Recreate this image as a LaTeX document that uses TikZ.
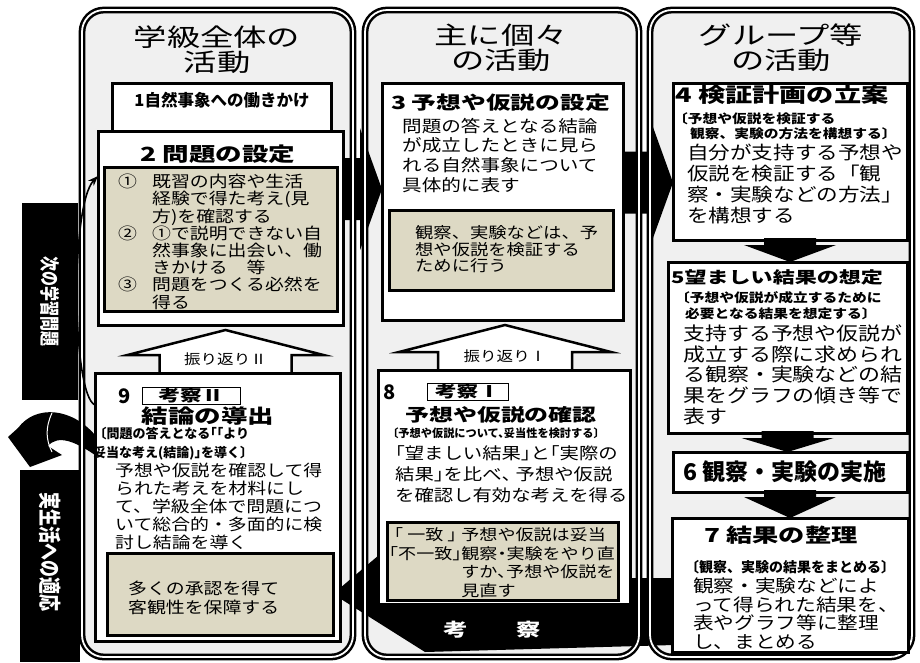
\documentclass[tikz,border=0pt]{standalone}
\usepackage{fontspec}
\usetikzlibrary{calc,arrows.meta}
\newfontfamily\widefont[FakeStretch=1.36]{Noto Sans CJK JP}
\newfontfamily\bodyfont[FakeStretch=1.18]{Noto Sans CJK JP}
\newfontfamily\haltfont[FakeStretch=1.18,RawFeature=+halt]{Noto Sans CJK JP}
\newfontfamily\plainfont{Noto Sans CJK JP}
\newfontfamily\narrowfont[RawFeature=+halt]{Noto Sans CJK JP}
\newfontfamily\barfont[FakeStretch=0.75]{Noto Sans CJK JP}
\newcommand\setfs[2]{\fontsize{#1}{#2}\selectfont}
\newcommand\itm[1]{\makebox[34pt][l]{#1}}
\newcommand\pad{\hspace*{34pt}}
\setlength{\lineskiplimit}{-20pt}
\setlength{\lineskip}{0pt}
\definecolor{colfill}{RGB}{240,240,240}
\definecolor{notefill}{RGB}{221,217,196}
\pgfdeclarelayer{back}
\pgfdeclarelayer{mid}
\pgfsetlayers{back,mid,main}

\begin{document}
\begin{tikzpicture}[x=1pt, y=-1pt, >=Stealth,
  col/.style={fill=colfill, rounded corners=22pt, anchor=north west, inner sep=0pt, outer sep=0pt},
  colframe/.style={draw, double=white, line width=2.5pt, double distance=1.8pt, rounded corners=22pt},
  box/.style={draw, fill=white, line width=3pt, anchor=north west, inner sep=0pt, outer sep=0pt},
  note/.style={box, fill=notefill},
  bar/.style={fill=black, anchor=north west, inner sep=0pt, outer sep=0pt},
  lbl/.style={inner sep=0pt},
  txt/.style={lbl, align=left, anchor=north west},
  tag/.style={lbl, draw, line width=1pt, minimum height=17pt}]

\begin{pgfonlayer}{back}
\fill[white] (0,0) rectangle (920,662);
\foreach \nm/\x/\w in {c1/82/271,c2/365/274,c3/650/262}
  \node[col, minimum width=\w pt, minimum height=647pt] (\nm) at (\x,10) {};
\end{pgfonlayer}
\useasboundingbox (0,0) rectangle (920,662);

% boxes
\foreach \nm/\x/\y/\w/\h in {b1/112/83/219/48, b2/98/131/245/194, b9/95/373/245/268,
    b3/382/83/241/237, b8/378/370/252/234,
    b4/673/83/234/157, b5/668/262/239/171, b6/673/452/234/40, b7/672/518/236/134}
  \node[box, minimum width=\w pt, minimum height=\h pt] (\nm) at (\x,\y) {};
\foreach \nm/\x/\y/\w/\h in {n2/104/167/233/144, n3/389/210/224/80, n8/387/522/231/78, n9/107/553/226/82}
  \node[note, minimum width=\w pt, minimum height=\h pt] (\nm) at (\x,\y) {};

% side bars
\node[bar, minimum width=56pt, minimum height=197pt] (bar1) at (22,203) {};
\node[bar, minimum width=60pt, minimum height=192pt] (bar2) at (20,470) {};
\node[lbl, rotate=-90, text=white, font=\barfont\bfseries\setfs{20}{20}] (q1) at (bar1.center) {次の学習問題};
\node[lbl, rotate=-90, text=white, font=\barfont\bfseries\setfs{22.7}{23}] (q2) at ($(bar2.center)+(0,-14)$) {実生活への適応};

\begin{pgfonlayer}{mid}
% big arrows
\foreach \a/\b/\f in {b2/b3/.3, b3/b4/.42}{
  \coordinate (s) at ($(\a.north east)!\f!(\a.south east)$);
  \coordinate (t) at (\b.west |- s);
  \fill ($(s)+(-4,-31)$) -- ($(t)+(-22,-31)$) -- ($(t)+(-22,-61)$) -- (t)
    -- ($(t)+(-22,61)$) -- ($(t)+(-22,31)$) -- ($(s)+(-4,31)$) -- cycle;
}
\fill (n9.east) -- ($(n9.east)+(59,-50)$) -- ($(n9.east)+(59,-16)$) -- ($(b7.west)+(2,-7)$)
  -- ($(b7.west)+(2,60)$) -- ($(n9.east)+(92,58)$) -- cycle;
\fill ($(b9.north west)+(0,62)$) .. controls (72,408) and (36,404) .. (18,428) -- (8,437)
  -- ($(bar2.north)+(-20,-3)$) -- (62,455) -- (48,446)
  .. controls (58,434) and (76,442) .. ($(b9.north west)+(0,82)$) -- cycle;
\draw[white, line width=1pt] (52,413) .. controls (45,428) and (46,440) .. (52,452);
\foreach \nm in {c1,c2,c3}
  \draw[colframe] (\nm.north west) rectangle (\nm.south east);
% look-back arrows
\foreach \a/\b/\dx/\hw/\sw/\lbl in {b9/b2/8/98/66/振り返りⅡ, b8/b3/1/106/67/振り返りⅠ}{
  \coordinate (u) at ($(\a.north)+(\dx,0)$);
  \coordinate (v) at ($(u |- \b.south)+(0,5)$);
  \draw[fill=white, line width=2.5pt] ($(u)+(-\sw,0)$) -- ($(u)+(-\sw,-18)$) -- ($(u)+(-\hw,-18)$)
    -- (v) -- ($(u)+(\hw,-18)$) -- ($(u)+(\sw,-18)$) -- ($(u)+(\sw,0)$);
  \node[lbl, font=\bodyfont\setfs{14}{14}] (fr\a) at ($(u)+(0,-14)$) {\lbl};
}
\end{pgfonlayer}

% column heads
\node[txt, align=center, anchor=north, font=\widefont\setfs{24.5}{25}] (h1) at (217,26) {学級全体の\\活動};
\node[txt, align=center, anchor=north, font=\widefont\setfs{24.5}{25}] (h2) at (501,24) {主に個々\\の活動};
\node[txt, align=center, anchor=north, font=\widefont\setfs{24.5}{25}] (h3) at (781,24) {グループ等\\の活動};

% column 1
\node[lbl, font=\plainfont\bfseries\setfs{16.5}{18}] (t1) at (222,100) {1自然事象への働きかけ};
\node[lbl, font=\widefont\bfseries\setfs{19.5}{20}] (t2) at (218,154.5) {2 問題の設定};
\node[txt, font=\bodyfont\setfs{16}{17.2}] (t2n) at (118,174)
  {\itm{①}既習の内容や生活\\\pad 経験で得た考え(見\\\pad 方)を確認する\\
   \itm{②}①で説明できない自\\\pad 然事象に出会い、働\\\pad きかける　等\\
   \itm{③}問題をつくる必然を\\\pad 得る};
\node[lbl, font=\plainfont\bfseries\setfs{20}{20}] (t9num) at (125,396) {9};
\node[tag, minimum width=98pt, font=\widefont\bfseries\setfs{16}{16}] (t9k) at (191,395.5) {考察Ⅱ};
\node[lbl, font=\widefont\bfseries\setfs{19.5}{20}] (t9) at (208,416) {結論の導出};
\node[txt, font=\narrowfont\bfseries\setfs{13}{19.5}] (t9a) at (93,427)
  {\hspace*{7pt}〔問題の答えとなる「「より\\妥当な考え(結論)」を導く〕};
\node[txt, font=\bodyfont\setfs{16}{18}] (t9b) at (115,462.5)
  {予想や仮説を確認して得\\られた考えを材料にし\\て、学級全体で問題につ\\いて総合的・多面的に検\\討し結論を導く};
\node[txt, font=\bodyfont\setfs{16}{19}] (t9n) at (128,580.5) {多くの承認を得て\\客観性を保障する};

% column 2
\node[lbl, anchor=west, font=\widefont\bfseries\setfs{18.2}{20}] (t3) at (391,102.5) {3 予想や仮説の設定};
\node[txt, font=\bodyfont\setfs{16.6}{19.7}] (t3b) at (402,117.7)
  {問題の答えとなる結論\\が成立したときに見ら\\れる自然事象について\\具体的に表す};
\node[txt, font=\bodyfont\setfs{15.5}{16.5}] (t3n) at (415,225.7)
  {観察、実験などは、予\\想や仮説を検証する\\ために行う};
\node[lbl, font=\plainfont\bfseries\setfs{20}{20}] (t8num) at (390,392) {8};
\node[tag, minimum width=81pt, font=\widefont\bfseries\setfs{16}{16}] (t8k) at (467.5,391.5) {考察Ⅰ};
\node[lbl, font=\widefont\bfseries\setfs{17.6}{18}] (t8) at (501,415) {予想や仮説の確認};
\node[lbl, font=\narrowfont\bfseries\setfs{11.2}{12}] (t8a) at (496,433) {〔予想や仮説について、妥当性を検討する〕};
\node[txt, font=\haltfont\setfs{16.4}{21}] (t8b) at (395,445.2)
  {「望ましい結果」と「実際の\\結果」を比べ、 予想や仮説\\を確認し有効な考えを得る};
\node[txt, font=\haltfont\setfs{15.3}{18.3}\setlength{\lineskiplimit}{0pt}] (t8n) at (389,527.7)
  {\begin{tabular}{@{}c@{}l@{}}「 一致 」&予想や仮説は妥当\\「不一致」&観察・実験をやり直\\&すか、予想や仮説を\\&見直す\end{tabular}};
\node[lbl, text=white, font=\widefont\bfseries\setfs{18}{18}] (ks) at (492,630) {考　　察};

% column 3
\node[lbl, anchor=west, font=\widefont\bfseries\setfs{20}{20}] (t4) at (675,95) {4 検証計画の立案};
\node[txt, font=\bodyfont\bfseries\setfs{12.5}{15}] (t4a) at (673,112)
  {〔予想や仮説を検証する\\\hspace*{17pt}観察、実験の方法を構想する〕};
\node[txt, font=\bodyfont\setfs{18.3}{21}] (t4b) at (687,143.4)
  {自分が支持する予想や\\仮説を検証する「観\\察・実験などの方法」\\を構想する};
\node[lbl, anchor=west, font=\widefont\bfseries\setfs{16.2}{18}] (t5) at (671,277) {5望ましい結果の想定};
\node[txt, font=\bodyfont\bfseries\setfs{12.5}{16}] (t5a) at (675,291)
  {〔予想や仮説が成立するために\\\hspace*{10pt}必要となる結果を想定する〕};
\node[txt, font=\bodyfont\setfs{18.6}{20.6}] (t5b) at (683,324.8)
  {支持する予想や仮説が\\成立する際に求められ\\る観察・実験などの結\\果をグラフの傾き等で\\表す};
\node[lbl, font=\plainfont\bfseries\setfs{23}{23}] (t6) at (785,472) {6 観察・実験の実施};
\node[lbl, font=\widefont\bfseries\setfs{19.3}{20}] (t7) at (781,535) {7 結果の整理};
\node[lbl, anchor=west, font=\plainfont\bfseries\setfs{14}{14}] (t7a) at (685,567) {〔観察、実験の結果をまとめる〕};
\node[txt, font=\bodyfont\setfs{17.5}{18.4}] (t7b) at (693,578)
  {観察・実験などによ\\って得られた結果を、\\表やグラフ等に整理\\し、まとめる};

% down arrows
\foreach \u/\v in {b4/b5, b5/b6, b6/b7}
  \fill ($(\u.south)+(-26,-2)$) -- ++(52,0) -- ++(0,7) -- ++(20,0) -- (\u.south |- \v.north)
    -- ($(\u.south)+(-46,5)$) -- ++(20,0) -- cycle;

% back to the next problem
\draw[line width=1.6pt, ->] ($(b9.north west)+(0,32)$) .. controls (72,395) and (70,205) .. ($(b2.north west)+(0,45)$);

\end{tikzpicture}
\end{document}
